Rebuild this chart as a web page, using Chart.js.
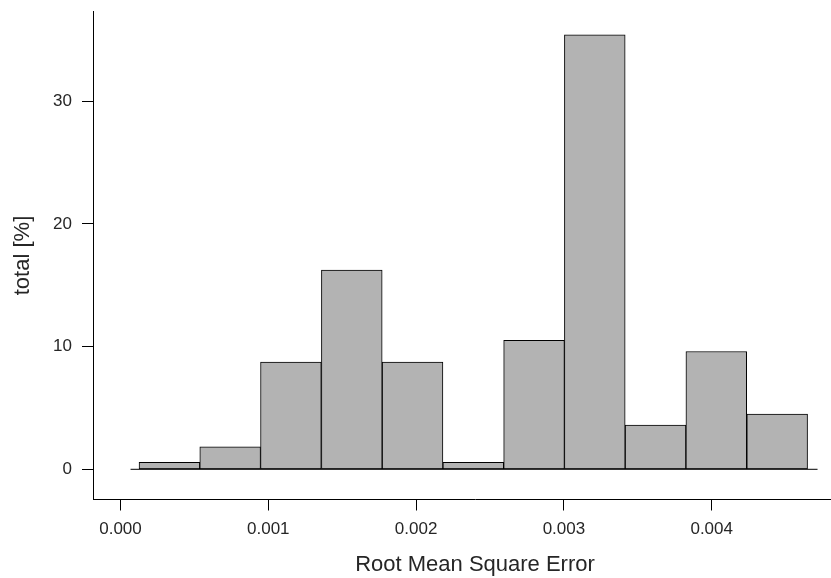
<!DOCTYPE html>
<html>
<head>
<meta charset="utf-8">
<title>Root Mean Square Error</title>
<script src="https://cdn.jsdelivr.net/npm/chart.js@4.4.1/dist/chart.umd.min.js"></script>
<style>
    html, body { margin: 0; padding: 0; background: #fff; overflow: hidden; }
    /* the panel runs on past the right edge of the picture */
    #wrap { width: 831px; height: 578px; overflow: hidden; }
</style>
</head>
<body>
<div id="wrap"><canvas id="rmseChart" width="857" height="578"></canvas></div>
<script>
// histogram bins (centre of each bin) and their share of the total [%]
const binCenters = [0.000331, 0.000742, 0.001153, 0.001565, 0.001976, 0.002387, 0.002798, 0.003209, 0.003620, 0.004031, 0.004443];
const binTotals = [0.57, 1.84, 8.74, 16.24, 8.74, 0.57, 10.5, 35.4, 3.6, 9.6, 4.5];
// zero line drawn under the bars
const zeroLineX = [0.000068, 0.004716];
const xTicks = [0, 0.001, 0.002, 0.003, 0.004];
const yTicks = [0, 10, 20, 30];

const fontFamily = "'Liberation Sans', Arial, Helvetica, sans-serif";

document.addEventListener('DOMContentLoaded', () => {
    const ctx = document.getElementById('rmseChart').getContext('2d');

    new Chart(ctx, {
        type: 'bar',
        data: {
            datasets: [
                {
                    type: 'line',
                    data: zeroLineX.map(x => ({ x: x, y: 0 })),
                    borderColor: '#000',
                    borderWidth: 1,
                    pointRadius: 0,
                    order: 0
                },
                {
                    label: 'total [%]',
                    data: binCenters.map((x, i) => ({ x: x, y: binTotals[i] })),
                    backgroundColor: '#b3b3b3',
                    borderColor: '#000',
                    borderWidth: 1,
                    borderSkipped: false,
                    barPercentage: 1,
                    categoryPercentage: 1,
                    order: 1
                }
            ]
        },
        options: {
            responsive: false,
            animation: false,
            layout: {
                padding: { top: 11.5, right: 0, bottom: 0, left: 0 }
            },
            plugins: {
                legend: { display: false },
                tooltip: { enabled: false }
            },
            scales: {
                x: {
                    type: 'linear',
                    offset: false,
                    min: -0.000186,
                    max: 0.004983,
                    afterBuildTicks: scale => {
                        scale.ticks = xTicks.map(v => ({ value: v }));
                    },
                    afterFit: scale => {
                        scale.height = 78.5;
                        scale.paddingLeft = 0;
                        scale.paddingRight = 0;
                    },
                    grid: {
                        display: true,
                        drawOnChartArea: false,
                        drawTicks: true,
                        tickLength: 11,
                        color: '#000',
                        offset: false
                    },
                    border: { display: true, color: '#000', width: 1 },
                    ticks: {
                        padding: 9,
                        color: '#262626',
                        maxRotation: 0,
                        font: { family: fontFamily, size: 17 },
                        callback: value => value.toFixed(3)
                    },
                    title: {
                        display: true,
                        text: 'Root Mean Square Error',
                        color: '#262626',
                        font: { family: fontFamily, size: 22 },
                        padding: { top: 0, bottom: 0 }
                    }
                },
                y: {
                    min: -2.46,
                    max: 37.3,
                    afterBuildTicks: scale => {
                        scale.ticks = yTicks.map(v => ({ value: v }));
                    },
                    afterFit: scale => {
                        scale.width = 93;
                        scale.paddingTop = 0;
                        scale.paddingBottom = 0;
                    },
                    grid: {
                        display: true,
                        drawOnChartArea: false,
                        drawTicks: true,
                        tickLength: 11,
                        color: '#000'
                    },
                    border: { display: true, color: '#000', width: 1 },
                    ticks: {
                        padding: 10,
                        color: '#262626',
                        font: { family: fontFamily, size: 17 }
                    },
                    title: {
                        display: true,
                        text: 'total [%]',
                        color: '#262626',
                        font: { family: fontFamily, size: 22 },
                        padding: { top: 10, bottom: 0 }
                    }
                }
            }
        }
    });
});
</script>
</body>
</html>
